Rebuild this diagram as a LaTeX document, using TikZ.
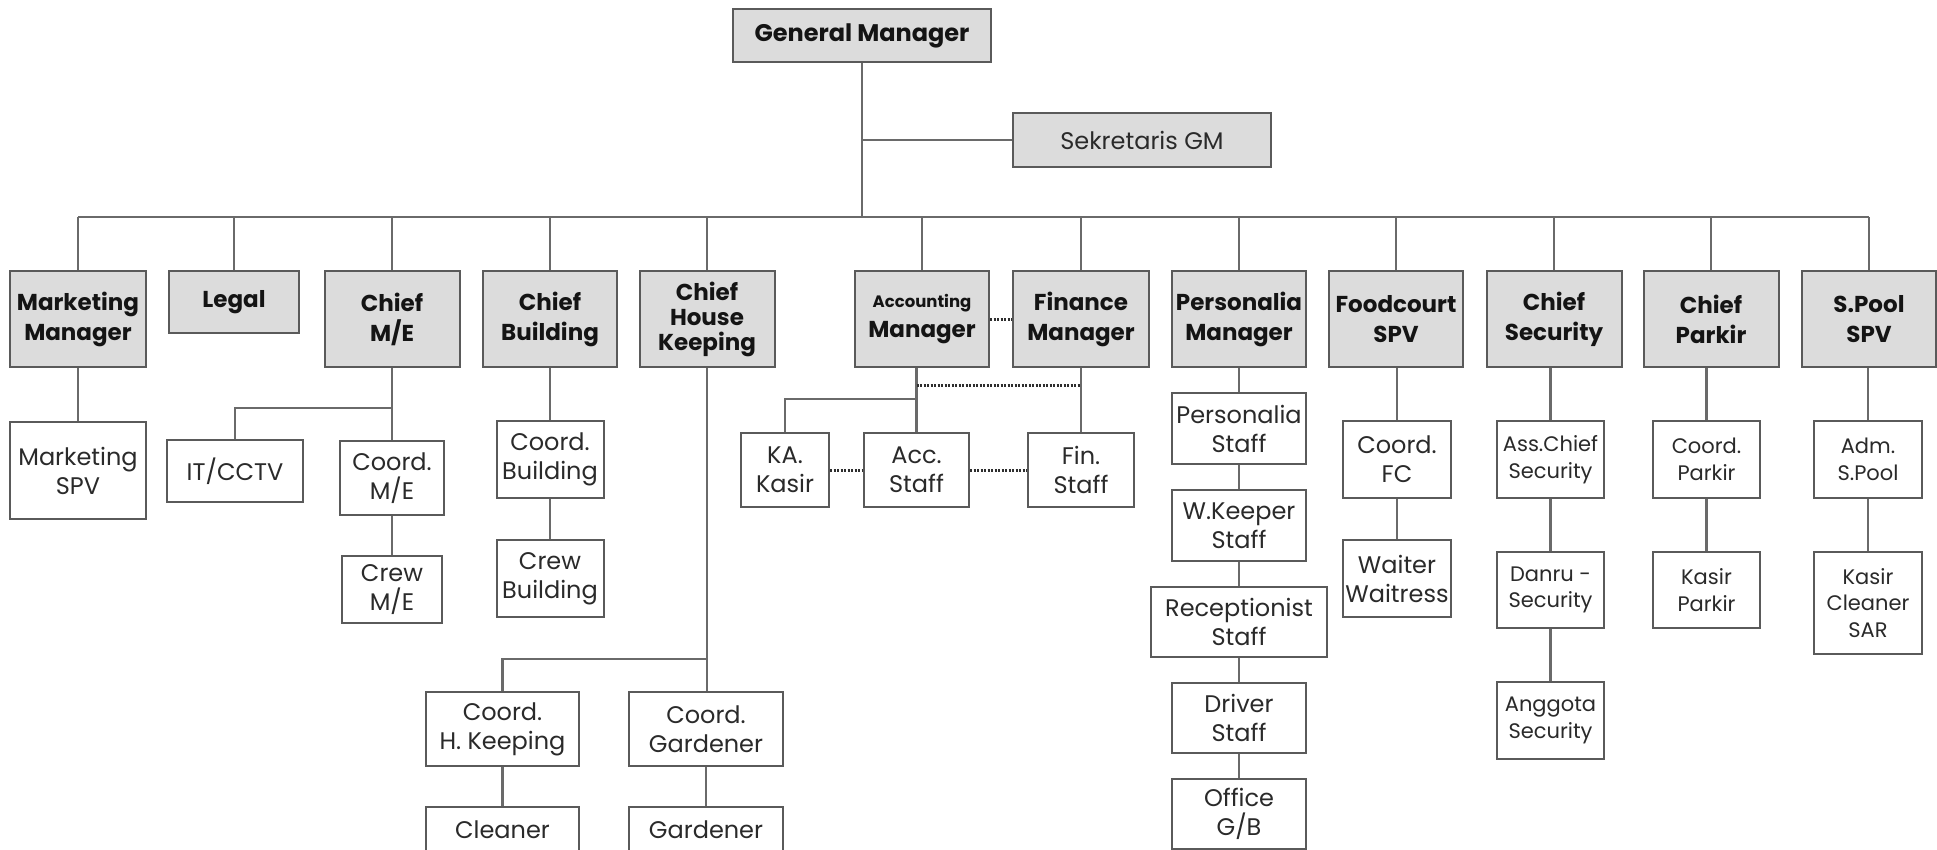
\documentclass[tikz,border=0pt]{standalone}
\usepackage{fontspec}
\setmainfont{Poppins}
\definecolor{boxfill}{HTML}{DCDCDC}
\definecolor{edge}{HTML}{5A5A5A}
\definecolor{wire}{HTML}{6A6A6A}
\definecolor{ink}{HTML}{141414}
\definecolor{inkl}{HTML}{2A2A2A}
\definecolor{dotc}{HTML}{2E2E2E}
\tikzset{
  base/.style={draw=edge, line width=2pt, rectangle, inner sep=0pt, align=center},
  head/.style={base, fill=boxfill, text=ink, font=\bfseries\fontsize{23}{30}\selectfont},
  headr/.style={base, fill=boxfill, text=inkl, font=\fontsize{24}{28}\selectfont},
  sub/.style={base, fill=white, text=inkl, font=\fontsize{24}{29}\selectfont},
  subs/.style={sub, font=\fontsize{21}{26.5}\selectfont},
  wh/.style 2 args={minimum width=#1pt, minimum height=#2pt},
  conn/.style={draw=wire, line width=2.2pt},
  dots/.style={draw=dotc, line width=3pt, dash pattern=on 2pt off 1.5pt},
}
\begin{document}
\begin{tikzpicture}[x=1pt,y=-1pt]
\useasboundingbox (0,0) rectangle (1937,849);
\fill[white] (0,0) rectangle (1937,849);
\clip (0,0) rectangle (1937,849);

\coordinate (bus) at (0,217);

% top
\node[head, wh={258}{53}, font=\bfseries\fontsize{24}{29}\selectfont] (gm) at (862,35.5) {General Manager};
\node[headr, wh={258}{54}] (sek) at (1142,140) {Sekretaris GM};

% first row
\node[head, wh={136}{96}] (mm) at (78,319) {Marketing\\Manager};
\node[head, wh={130}{62}] (legal) at (234,302) {Legal};
\node[head, wh={135}{96}] (cme) at (392,319) {Chief\\M/E};
\node[head, wh={134}{96}] (cb) at (550,319) {Chief\\Building};
\node[head, wh={135}{96}, font=\bfseries\fontsize{23}{25}\selectfont] (chk) at (707,319) {Chief\\House\\Keeping};
\node[head, wh={134}{96}] (acc) at (922,319) {{\fontsize{16.5}{20}\selectfont Accounting}\\Manager};
\node[head, wh={136}{96}] (fin) at (1081,319) {Finance\\Manager};
\node[head, wh={134}{96}] (pm) at (1239,319) {Personalia\\Manager};
\node[head, wh={134}{96}] (fc) at (1396,319) {Foodcourt\\SPV};
\node[head, wh={135}{96}] (cs) at (1554,319) {Chief\\Security};
\node[head, wh={135}{96}] (cp) at (1711,319) {Chief\\Parkir};
\node[head, wh={134}{96}] (sp) at (1869,319) {S.Pool\\SPV};

% marketing
\node[sub, wh={136}{97}] (mspv) at (78,470.5) {Marketing\\SPV};
% M/E
\node[sub, wh={136}{62}] (itc) at (235,471) {IT/CCTV};
\node[sub, wh={104}{74}] (coordme) at (392,478) {Coord.\\M/E};
\node[sub, wh={100}{67}] (crewme) at (392,589.5) {Crew\\M/E};
% building
\node[sub, wh={107}{77}] (coordb) at (550,459.5) {Coord.\\Building};
\node[sub, wh={107}{77}] (crewb) at (550,578.5) {Crew\\Building};
% house keeping
\node[sub, wh={153}{74}] (coordhk) at (502.5,729) {Coord.\\H. Keeping};
\node[sub, wh={154}{74}] (coordg) at (706,729) {Coord.\\Gardener};
\node[sub, wh={153}{74}] (cleaner) at (502.5,844) {Cleaner\\\phantom{x}};
\node[sub, wh={154}{74}] (gardener) at (706,844) {Gardener\\\phantom{x}};
% accounting / finance
\node[sub, wh={88}{74}] (kasir) at (785,470) {KA.\\Kasir};
\node[sub, wh={105}{74}] (accst) at (916.5,470) {Acc.\\Staff};
\node[sub, wh={106}{74}] (finst) at (1081,470) {Fin.\\Staff};
% personalia
\node[sub, wh={134}{71}] (pst) at (1239,428.5) {Personalia\\Staff};
\node[sub, wh={134}{71}] (wk) at (1239,525.5) {W.Keeper\\Staff};
\node[sub, wh={176}{70}] (rec) at (1239,622) {Receptionist\\Staff};
\node[sub, wh={134}{70}] (drv) at (1239,718) {Driver\\Staff};
\node[sub, wh={134}{70}] (off) at (1239,814) {Office\\G/B};
% foodcourt
\node[sub, wh={108}{77}] (cfc) at (1397,459.5) {Coord.\\FC};
\node[sub, wh={108}{77}] (ww) at (1397,578.5) {Waiter\\Waitress};
% security
\node[subs, wh={107}{77}] (acs) at (1550.5,459.5) {Ass.Chief\\Security};
\node[subs, wh={107}{76}] (danru) at (1550.5,590) {Danru -\\Security};
\node[subs, wh={107}{77}] (angg) at (1550.5,720.5) {Anggota\\Security};
% parkir
\node[subs, wh={107}{77}] (cpk) at (1706.5,459.5) {Coord.\\Parkir};
\node[subs, wh={107}{76}] (kpk) at (1706.5,590) {Kasir\\Parkir};
% pool
\node[subs, wh={108}{77}] (adm) at (1868,459.5) {Adm.\\S.Pool};
\node[subs, wh={108}{102}] (kcs) at (1868,603) {Kasir\\Cleaner\\SAR};

% joints
\coordinate (mej) at (392,408);
\coordinate (hkj) at (707,659);
\coordinate (accj) at (916.5,399);
\coordinate (dotl) at (916.5,385);
\coordinate (dotr) at (1081,385);

% trunk and bus
\draw[conn] (gm.south) -- (gm.south |- bus);
\draw[conn] (gm.south |- sek.west) -- (sek.west);
\draw[conn] (mm.north |- bus) -- (sp.north |- bus);
\foreach \n in {mm,legal,cme,cb,chk,acc,fin,pm,fc,cs,cp,sp}
  \draw[conn] (\n.north) -- (\n.north |- bus);

% branches
\draw[conn] (mspv.north) -- (mspv.north |- mm.south);
\draw[conn] (coordme.north) -- (coordme.north |- cme.south);
\draw[conn] (itc.north) |- (mej);
\draw[conn] (crewme.north) -- (crewme.north |- coordme.south);
\draw[conn] (coordb.north) -- (coordb.north |- cb.south);
\draw[conn] (crewb.north) -- (crewb.north |- coordb.south);
\draw[conn] (coordg.north -| hkj) -- (hkj |- chk.south);
\draw[conn] (coordhk.north) |- (hkj);
\draw[conn] (cleaner.north) -- (cleaner.north |- coordhk.south);
\draw[conn] (gardener.north) -- (gardener.north |- coordg.south);
\draw[conn] (accst.north) -- (accst.north |- acc.south);
\draw[conn] (kasir.north) |- (accj);
\draw[conn] (finst.north) -- (finst.north |- fin.south);
\draw[dots] (dotl) -- (dotr);
\draw[dots] (acc.east) -- (fin.west);
\draw[dots] (kasir.east) -- (accst.west);
\draw[dots] (accst.east) -- (finst.west);
\draw[conn] (pst.north) -- (pst.north |- pm.south);
\draw[conn] (wk.north) -- (wk.north |- pst.south);
\draw[conn] (rec.north) -- (rec.north |- wk.south);
\draw[conn] (drv.north) -- (drv.north |- rec.south);
\draw[conn] (off.north) -- (off.north |- drv.south);
\draw[conn] (cfc.north) -- (cfc.north |- fc.south);
\draw[conn] (ww.north) -- (ww.north |- cfc.south);
\draw[conn] (acs.north) -- (acs.north |- cs.south);
\draw[conn] (danru.north) -- (danru.north |- acs.south);
\draw[conn] (angg.north) -- (angg.north |- danru.south);
\draw[conn] (cpk.north) -- (cpk.north |- cp.south);
\draw[conn] (kpk.north) -- (kpk.north |- cpk.south);
\draw[conn] (adm.north) -- (adm.north |- sp.south);
\draw[conn] (kcs.north) -- (kcs.north |- adm.south);
\end{tikzpicture}
\end{document}
